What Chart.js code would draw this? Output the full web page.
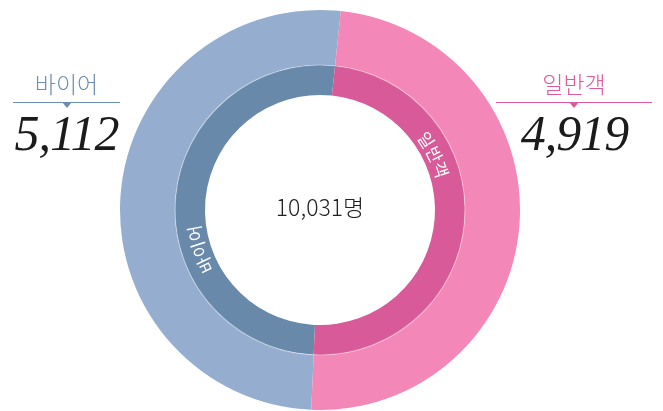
<!DOCTYPE html>
<html>
<head>
<meta charset="utf-8">
<script src="https://cdn.jsdelivr.net/npm/chart.js@4"></script>
<style>
    html, body { margin: 0; padding: 0; background: #fff; }
    #wrap { position: relative; width: 663px; height: 411px; overflow: hidden; }
    #chart { position: absolute; left: 0; top: 0; }
    .title { position: absolute; top: 71px; text-align: center; font-family: 'Noto Sans CJK KR', sans-serif; font-weight: 300; font-size: 23px; line-height: 24px; }
    .rule { position: absolute; top: 102px; height: 0; border-top: 1.5px solid; }
    .tri { position: absolute; top: 102px; width: 0; height: 0; border-left: 5px solid transparent; border-right: 5px solid transparent; border-top: 6px solid; }
    .num { position: absolute; top: 108px; text-align: center; font-family: 'Liberation Serif', serif; font-style: italic; font-size: 50px; line-height: 50px; color: #1b1b1b; letter-spacing: -1px; }
    #total { position: absolute; left: 220px; width: 200px; top: 194px; text-align: center; font-family: 'Noto Sans CJK KR', sans-serif; font-weight: 300; font-size: 23px; line-height: 24px; color: #222; }
</style>
</head>
<body>
<div id="wrap">
    <canvas id="chart" width="663" height="411"></canvas>
    <div class="title" id="leftTitle" style="left:13px;width:107px;color:#6c8db2;"></div>
    <div class="rule" style="left:13px;width:107px;border-color:#6c8db2;"></div>
    <div class="tri" style="left:62px;border-top-color:#6c8db2;"></div>
    <div class="num" id="leftNum" style="left:8px;width:117px;"></div>

    <div class="title" id="rightTitle" style="left:496px;width:156px;color:#df5a9c;"></div>
    <div class="rule" style="left:496px;width:156px;border-color:#df5a9c;"></div>
    <div class="tri" style="left:569px;border-top-color:#df5a9c;"></div>
    <div class="num" id="rightNum" style="left:516px;width:117px;"></div>

    <div id="total"></div>
</div>
<script>
const categories = ['바이어', '일반객'];
const visitors = [5112, 4919];
const totalUnit = '명';

const outerColors = ['#95aed0', '#f287b8'];
const innerColors = ['#6889aa', '#d95a98'];

const fmt = n => n.toLocaleString('en-US');
const total = visitors.reduce((a, b) => a + b, 0);

document.getElementById('leftTitle').textContent = categories[0];
document.getElementById('rightTitle').textContent = categories[1];
document.getElementById('leftNum').textContent = fmt(visitors[0]);
document.getElementById('rightNum').textContent = fmt(visitors[1]);
document.getElementById('total').textContent = fmt(total) + totalUnit;

// category names written along the inner ring
const ringText = {
    id: 'ringText',
    afterDatasetsDraw(chart) {
        const ctx = chart.ctx;
        const inner = chart.getDatasetMeta(1).data;
        const cx = inner[0].x, cy = inner[0].y;

        // thin light line between the two rings
        ctx.save();
        ctx.beginPath();
        ctx.arc(cx, cy, inner[0].outerRadius, 0, Math.PI * 2);
        ctx.strokeStyle = 'rgba(255,255,255,0.35)';
        ctx.lineWidth = 1.2;
        ctx.stroke();
        ctx.restore();

        const r = (inner[0].innerRadius + inner[0].outerRadius) / 2 - 3;
        const centers = [252, 64];
        ctx.save();
        ctx.font = '17px "Noto Sans CJK KR"';
        ctx.fillStyle = '#fff';
        ctx.textAlign = 'center';
        ctx.textBaseline = 'middle';
        categories.forEach((txt, i) => {
            const chars = [...txt];
            const widths = chars.map(c => ctx.measureText(c).width + 1);
            const span = widths.reduce((a, b) => a + b, 0) / r;
            let a = centers[i] * Math.PI / 180 - span / 2;
            chars.forEach((c, k) => {
                const mid = a + widths[k] / 2 / r;
                ctx.save();
                ctx.translate(cx + r * Math.sin(mid), cy - r * Math.cos(mid));
                ctx.rotate(mid);
                ctx.fillText(c, 0, 0);
                ctx.restore();
                a += widths[k] / r;
            });
        });
        ctx.restore();
    }
};

new Chart(document.getElementById('chart'), {
    type: 'doughnut',
    data: {
        labels: categories,
        datasets: [
            { data: visitors, backgroundColor: outerColors, borderWidth: 0, weight: 55 },
            { data: visitors, backgroundColor: innerColors, borderWidth: 0, weight: 30 }
        ]
    },
    options: {
        responsive: false,
        animation: false,
        rotation: 182.5,
        cutout: '57.5%',
        layout: { padding: { left: 120, right: 143, top: 10, bottom: 1 } },
        plugins: {
            legend: { display: false },
            tooltip: { enabled: false }
        },
        events: []
    },
    plugins: [ringText]
});
</script>
</body>
</html>
